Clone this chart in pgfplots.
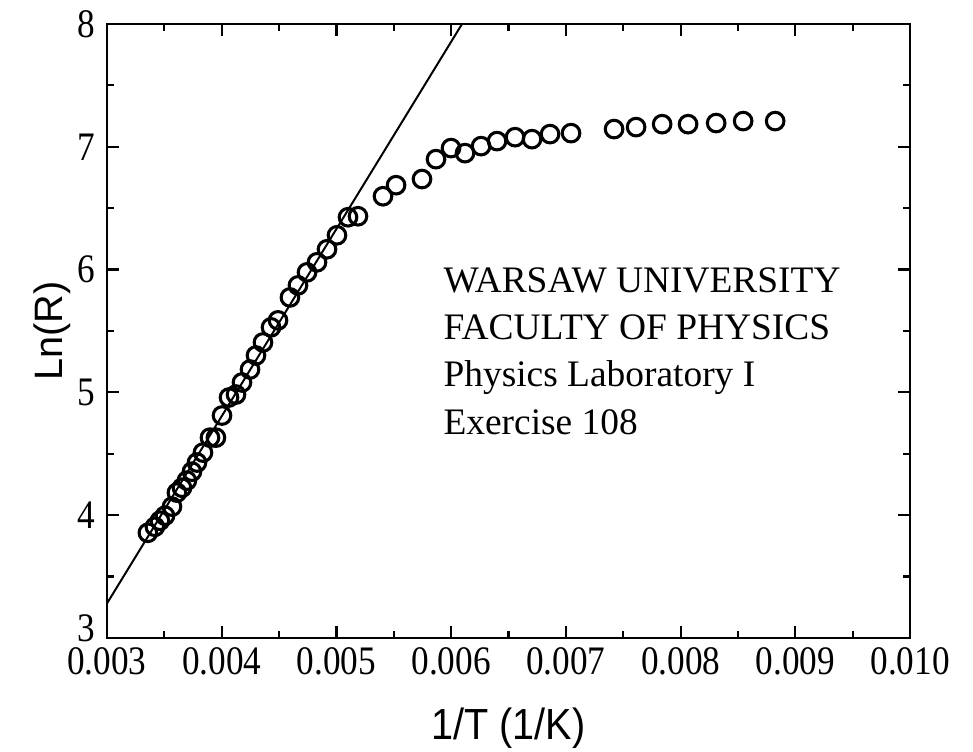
\documentclass[border=0pt]{standalone}
\usepackage{fontspec}
\setmainfont{Liberation Serif}
\setsansfont{Liberation Sans}
\usepackage{pgfplots}
\pgfplotsset{compat=1.18}
\newcommand{\tl}[1]{\scalebox{1}[1.15]{#1}}
\begin{document}
\begin{tikzpicture}
\begin{axis}[
  width=365pt, height=279pt, scale only axis,
  xmin=0.003, xmax=0.010, ymin=3, ymax=8,
  xtick={0.003,0.004,0.005,0.006,0.007,0.008,0.009,0.010}, ytick={3,4,5,6,7,8},
  xticklabels={\tl{0.003},\tl{0.004},\tl{0.005},\tl{0.006},\tl{0.007},\tl{0.008},\tl{0.009},\tl{0.010}},
  yticklabels={\raisebox{-1.5pt}[0pt][0pt]{\tl{3}},\tl{4},\tl{5},\tl{6},\tl{7},\tl{8}},
  minor x tick num=1, minor y tick num=1,
  tick align=inside, tick pos=both,
  major tick length=5.5pt, minor tick length=3pt,
  axis line style={line width=1.1pt},
  every tick/.style={line width=1pt, black},
  scaled x ticks=false,
  x tick label style={yshift=-1pt},
  y tick label style={xshift=-2pt},
  tick label style={font=\fontsize{16}{19}\selectfont},
  xlabel={\scalebox{1}[1.1]{1/T (1/K)}}, ylabel={Ln(R)},
  label style={font=\sffamily\fontsize{18}{21}\selectfont},
  xlabel style={yshift=-8pt},
  ylabel style={yshift=-4pt},
  clip=true,
]
\addplot[black, line width=0.9pt] coordinates {(0.003,3.28) (0.006095,8)};
\addplot[only marks, mark=o, mark size=4pt, mark options={line width=1.4pt, black}] coordinates {
(0.003357,3.856) (0.003418,3.905) (0.003462,3.954) (0.003506,3.995)
(0.003567,4.069) (0.003610,4.183) (0.003654,4.223) (0.003697,4.281)
(0.003741,4.354) (0.003785,4.428) (0.003837,4.509) (0.003898,4.631)
(0.003950,4.631) (0.004003,4.811) (0.004064,4.958) (0.004125,4.982)
(0.004177,5.080) (0.004247,5.186) (0.004299,5.300) (0.004360,5.406)
(0.004430,5.529) (0.004491,5.586) (0.004595,5.773) (0.004665,5.871)
(0.004744,5.977) (0.004831,6.059) (0.004918,6.165) (0.005005,6.279)
(0.005101,6.426) (0.005188,6.434) (0.005406,6.597) (0.005520,6.687)
(0.005746,6.737) (0.005868,6.899) (0.005999,6.989) (0.006121,6.948)
(0.006261,7.005) (0.006400,7.046) (0.006557,7.078) (0.006705,7.062)
(0.006862,7.103) (0.007045,7.111) (0.007420,7.144) (0.007612,7.160)
(0.007839,7.184) (0.008065,7.184) (0.008310,7.193) (0.008545,7.209)
(0.008824,7.209)
};
\node[anchor=north west, align=left, inner sep=0pt, font=\fontsize{17}{21.5}\selectfont]
  at (axis cs:0.00593,6.02) {WARSAW UNIVERSITY\\FACULTY OF PHYSICS\\Physics Laboratory I\\Exercise 108};
\end{axis}
\pgfresetboundingbox
\path ([shift={(-48.6pt,-51.8pt)}]current axis.south west) rectangle ([shift={(28.6pt,10.9pt)}]current axis.north east);
\end{tikzpicture}
\end{document}
